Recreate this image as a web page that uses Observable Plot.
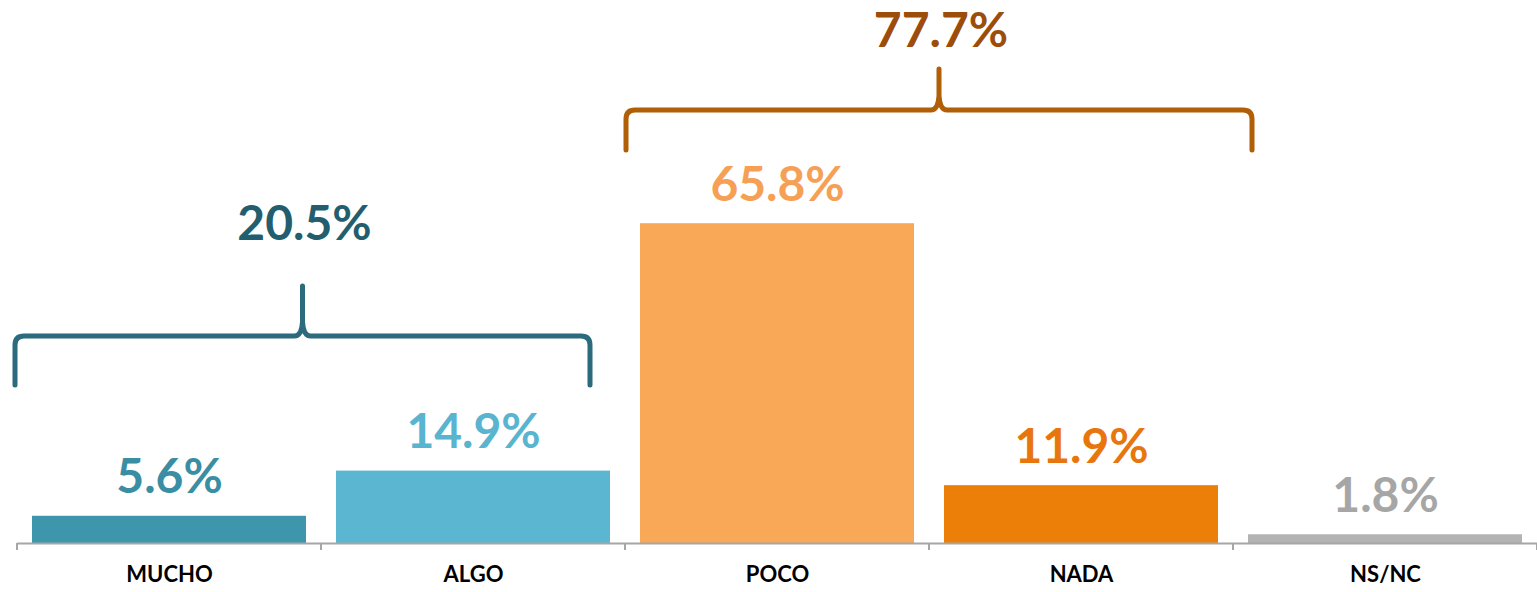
<!DOCTYPE html>
<html>
<head>
<meta charset="utf-8">
<script src="https://cdn.jsdelivr.net/npm/d3@7"></script>
<script src="https://cdn.jsdelivr.net/npm/@observablehq/plot@0.6"></script>
<style>
  html, body { margin: 0; padding: 0; background: #ffffff; }
  #chart svg { display: block; }
</style>
</head>
<body>
<div id="chart"></div>
<script>
// ---- data ----
const categories = ["MUCHO", "ALGO", "POCO", "NADA", "NS/NC"];
const values = [5.6, 14.9, 65.8, 11.9, 1.8];
const barColors = ["#3D96AB", "#5BB7D1", "#F8A857", "#EC7F07", "#B3B3B3"];
const labelColors = ["#3A8EA3", "#59B5CF", "#F6A055", "#E8760C", "#A6A6A6"];

const groupStart = ["MUCHO", "POCO"];
const groupEnd = ["ALGO", "NADA"];
const groupTotals = [20.5, 77.7];
const groupBraceColors = ["#2B6B7D", "#B05F07"];
const groupLabelColors = ["#225E6E", "#9C4D0A"];

const data = categories.map((c, i) => ({
  category: c,
  value: values[i],
  barColor: barColors[i],
  labelColor: labelColors[i],
  label: values[i].toFixed(1) + "%"
}));

const FONT = "Lato, 'Open Sans', 'DejaVu Sans', sans-serif";

// brace layout (pixel geometry, relative to band edges)
const braceLayout = [
  {x1Adj: -2, x2Adj: -35, hy: 336, drop: 49, rise: 50, labelY: 240},
  {x1Adj: 1, x2Adj: 19, hy: 110, drop: 40, rise: 41, labelY: 47}
];

function decorations(index, scales, vals, dimensions) {
  const x = scales.x, y = scales.y;
  const bw = x.bandwidth();
  const step = x(categories[1]) - x(categories[0]);
  const pad = (step - bw) / 2;
  const y0 = y(0);
  const g = d3.create("svg:g");

  // ticks at band boundaries
  const bounds = categories.map(c => x(c) - pad);
  bounds.push(x(categories[categories.length - 1]) + bw + pad);
  bounds.forEach(b => {
    g.append("line")
      .attr("x1", b).attr("x2", b)
      .attr("y1", y0).attr("y2", y0 + 7)
      .attr("stroke", "#A6A6A6").attr("stroke-width", 2);
  });

  // braces + group totals
  groupTotals.forEach((total, i) => {
    const L = braceLayout[i];
    const x1 = x(groupStart[i]) - pad + L.x1Adj;
    const x2 = x(groupEnd[i]) + bw + pad + L.x2Adj;
    const xm = (x1 + x2) / 2;
    const hy = L.hy, r = 9;
    const path = [
      `M${x1},${hy + L.drop}`,
      `L${x1},${hy + r}`,
      `Q${x1},${hy} ${x1 + r},${hy}`,
      `L${xm - 8},${hy}`,
      `Q${xm - 1},${hy} ${xm},${hy - 14}`,
      `L${xm},${hy - L.rise}`,
      `M${xm},${hy - 14}`,
      `Q${xm + 1},${hy} ${xm + 8},${hy}`,
      `L${x2 - r},${hy}`,
      `Q${x2},${hy} ${x2},${hy + r}`,
      `L${x2},${hy + L.drop}`
    ].join(" ");
    g.append("path")
      .attr("d", path)
      .attr("fill", "none")
      .attr("stroke", groupBraceColors[i])
      .attr("stroke-width", 5)
      .attr("stroke-linecap", "round")
      .attr("stroke-linejoin", "round");
    g.append("text")
      .attr("x", xm + 2)
      .attr("y", L.labelY)
      .attr("text-anchor", "middle")
      .attr("font-family", FONT)
      .attr("font-weight", "bold")
      .attr("font-size", 48)
      .attr("fill", groupLabelColors[i])
      .text(total.toFixed(1) + "%");
  });
  return g.node();
}

const chart = Plot.plot({
  width: 1537,
  height: 592,
  marginLeft: 17,
  marginRight: 0,
  marginTop: 57,
  marginBottom: 49,
  style: {fontFamily: FONT, background: "transparent"},
  x: {domain: categories, paddingInner: 0.1, paddingOuter: 0.05, axis: null},
  y: {domain: [0, 100], axis: null},
  color: {type: "identity"},
  marks: [
    Plot.barY(data, {x: "category", y: "value", fill: "barColor"}),
    Plot.ruleY([0], {stroke: "#A6A6A6", strokeWidth: 2}),
    Plot.text(data, {
      x: "category", y: "value", text: "label",
      fill: "labelColor", lineAnchor: "bottom", dy: -23,
      fontSize: 48, fontWeight: "bold"
    }),
    Plot.text(data, {
      x: "category", text: "category", frameAnchor: "bottom",
      lineAnchor: "top", dy: 23, fontSize: 22, fontWeight: "bold", fill: "#000000"
    }),
    decorations
  ]
});

document.getElementById("chart").appendChild(chart);
</script>
</body>
</html>
